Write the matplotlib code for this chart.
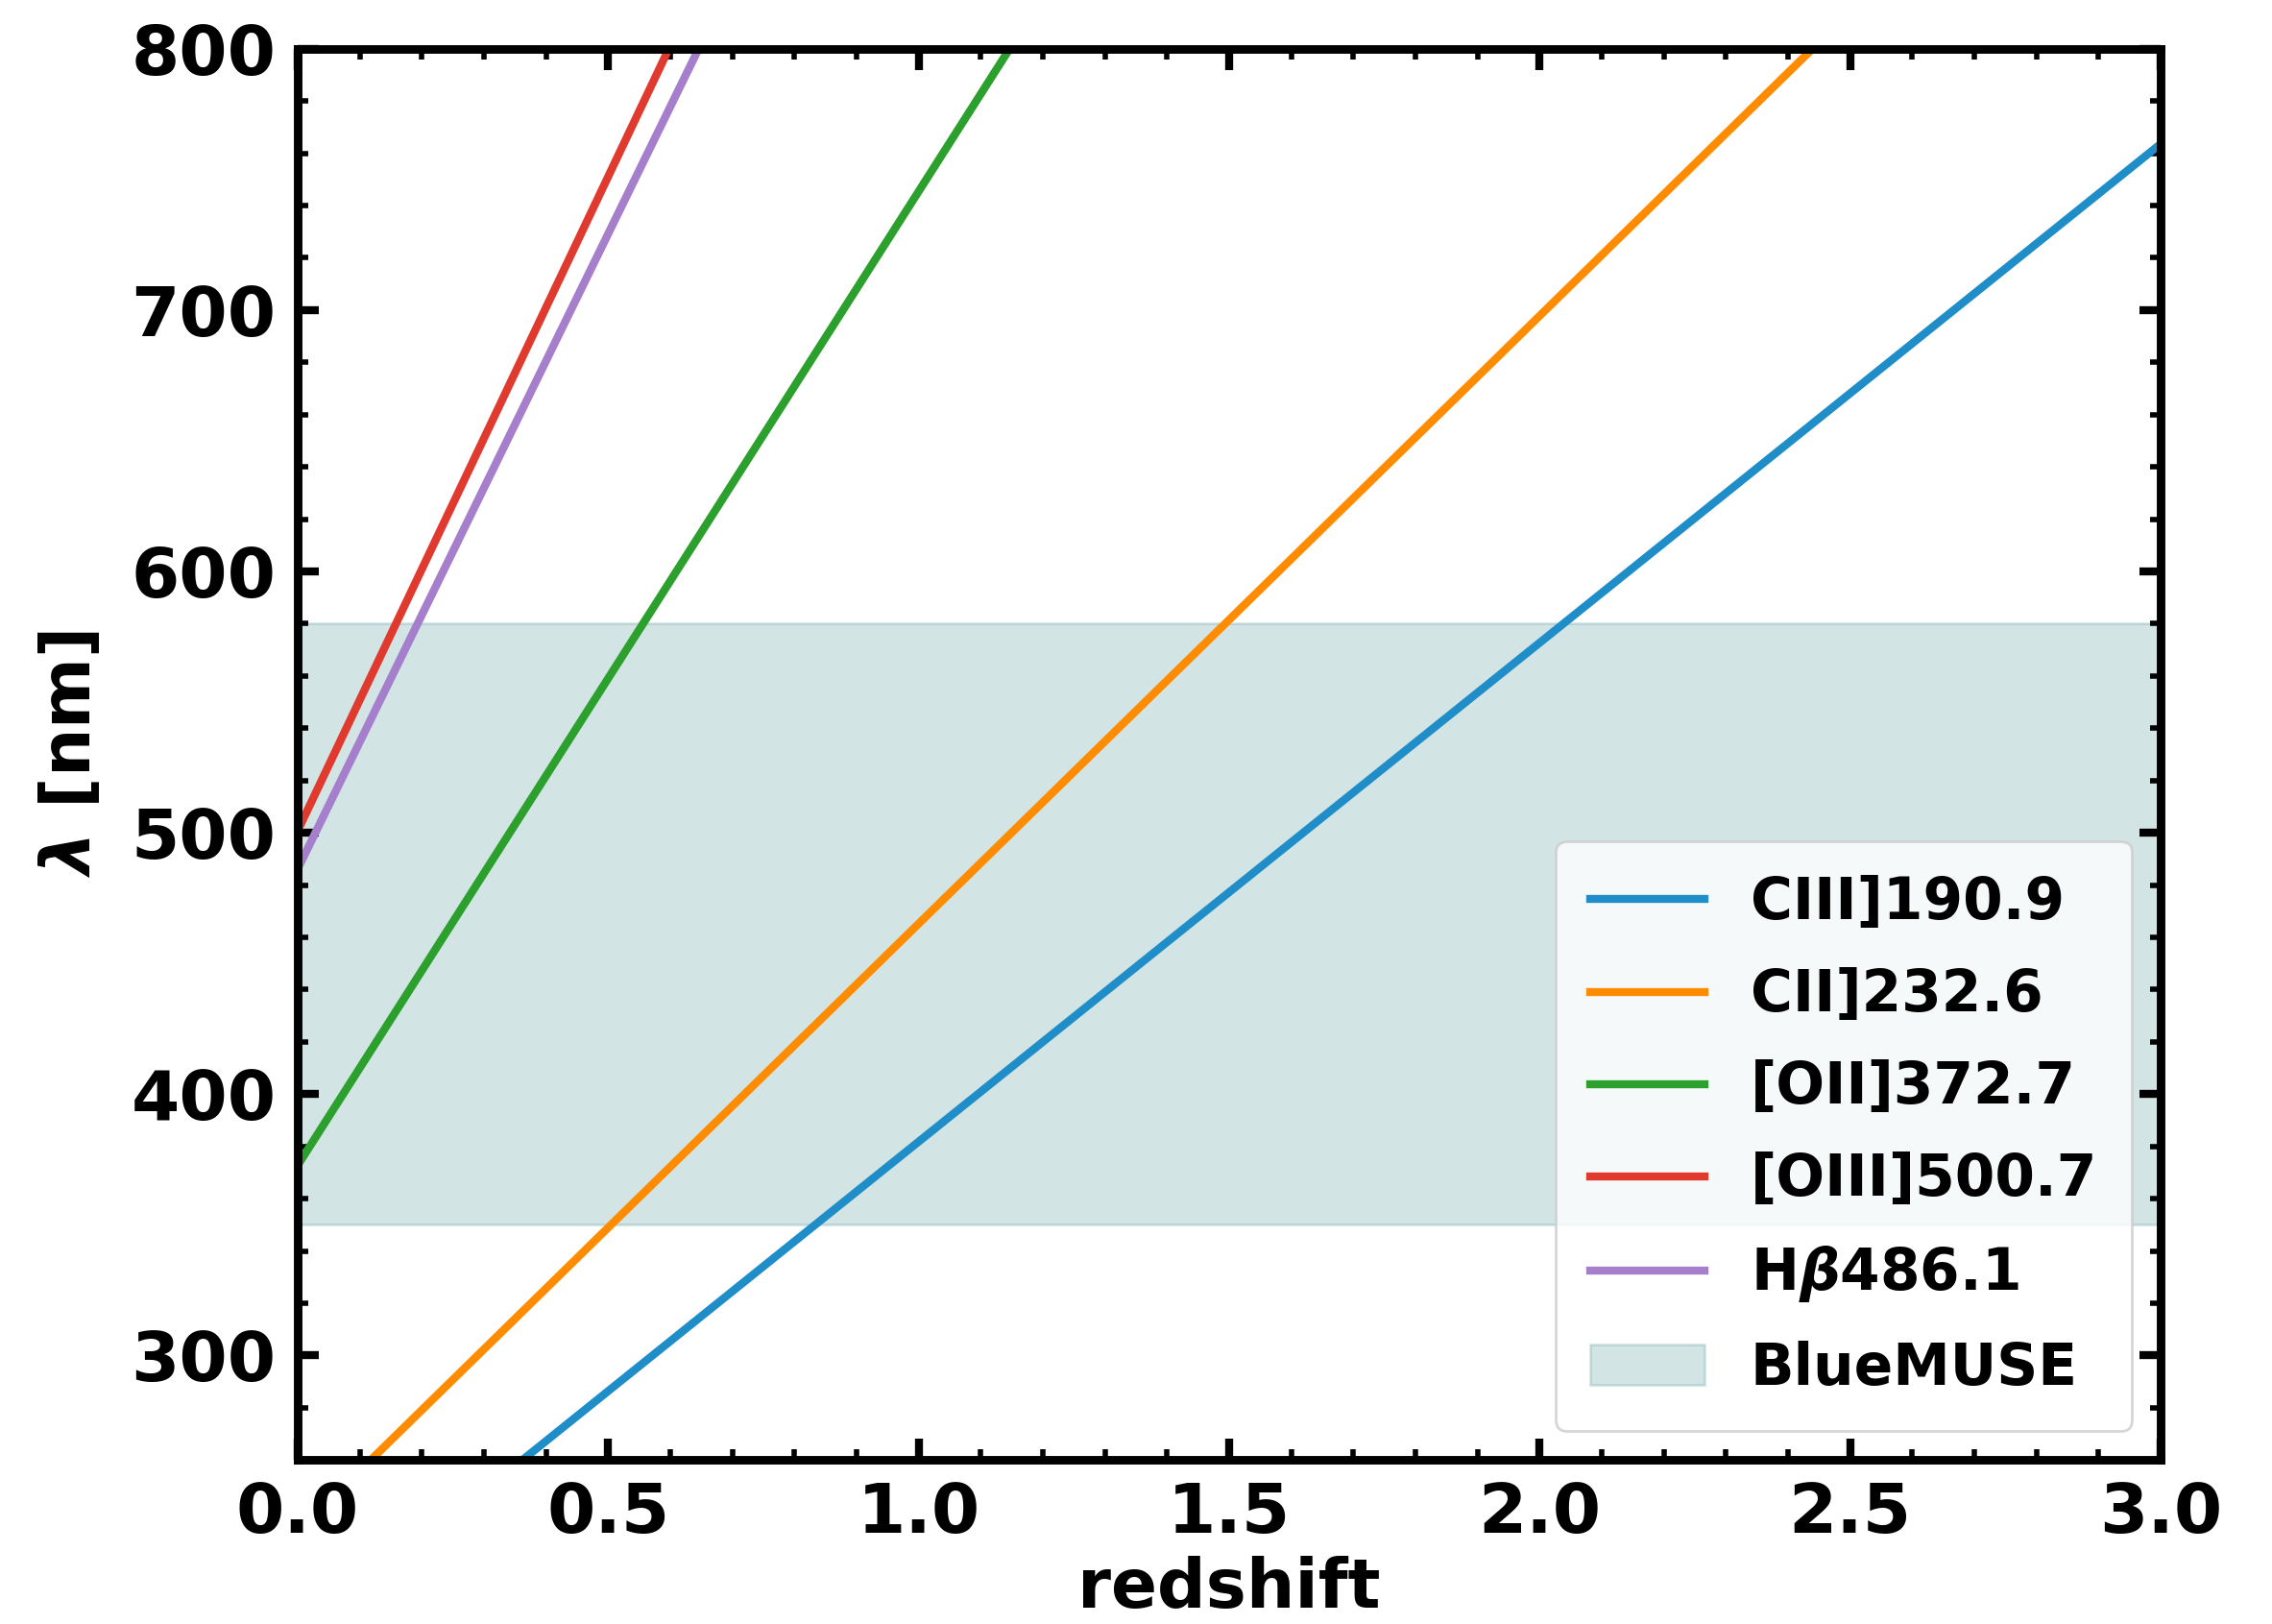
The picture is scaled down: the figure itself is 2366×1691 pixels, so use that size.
import numpy as np
import matplotlib
matplotlib.use("Agg")
import matplotlib.pyplot as plt
from matplotlib.ticker import MultipleLocator

# rest-frame wavelengths [nm]
line_names = ["CIII]190.9", "CII]232.6", "[OII]372.7", "[OIII]500.7", r"H$\beta$486.1"]
line_rest = [190.9, 232.6, 372.7, 500.7, 486.1]
line_colors = ["#1f8dc7", "#ff8c00", "#2ca02c", "#e03a2f", "#a67fcc"]
bluemuse_range = [350, 580]

z = np.linspace(0, 3, 300)

plt.rcParams["font.weight"] = "bold"
plt.rcParams["axes.labelweight"] = "bold"

fig, ax = plt.subplots(figsize=(11.83, 8.455), dpi=200)
fig.subplots_adjust(left=0.131, right=0.951, top=0.970, bottom=0.101)

for name, lam, col in zip(line_names, line_rest, line_colors):
    ax.plot(z, lam * (1 + z), color=col, lw=3, label=name)
ax.axhspan(bluemuse_range[0], bluemuse_range[1], color="cadetblue", alpha=0.27, label="BlueMUSE")

ax.set_xlim(0, 3)
ax.set_ylim(260, 800)
ax.xaxis.set_major_locator(MultipleLocator(0.5))
ax.xaxis.set_minor_locator(MultipleLocator(0.1))
ax.yaxis.set_major_locator(MultipleLocator(100))
ax.yaxis.set_minor_locator(MultipleLocator(20))
ax.tick_params(which="both", direction="in", top=True, right=True, labelsize=26, pad=8)
ax.tick_params(which="major", length=8, width=3)
ax.tick_params(which="minor", length=4, width=2)
for s in ax.spines.values():
    s.set_linewidth(3.2)

ax.set_xlabel("redshift", fontsize=25.5, labelpad=3)
ax.set_ylabel(r"$\lambda$ [nm]", fontsize=25.5, labelpad=10)
ax.legend(loc="lower right", fontsize=21.5, handlelength=2.0, labelspacing=0.62,
          borderpad=0.6, borderaxespad=0.5, edgecolor="#cccccc")

fig.savefig("out.png", dpi=200)
